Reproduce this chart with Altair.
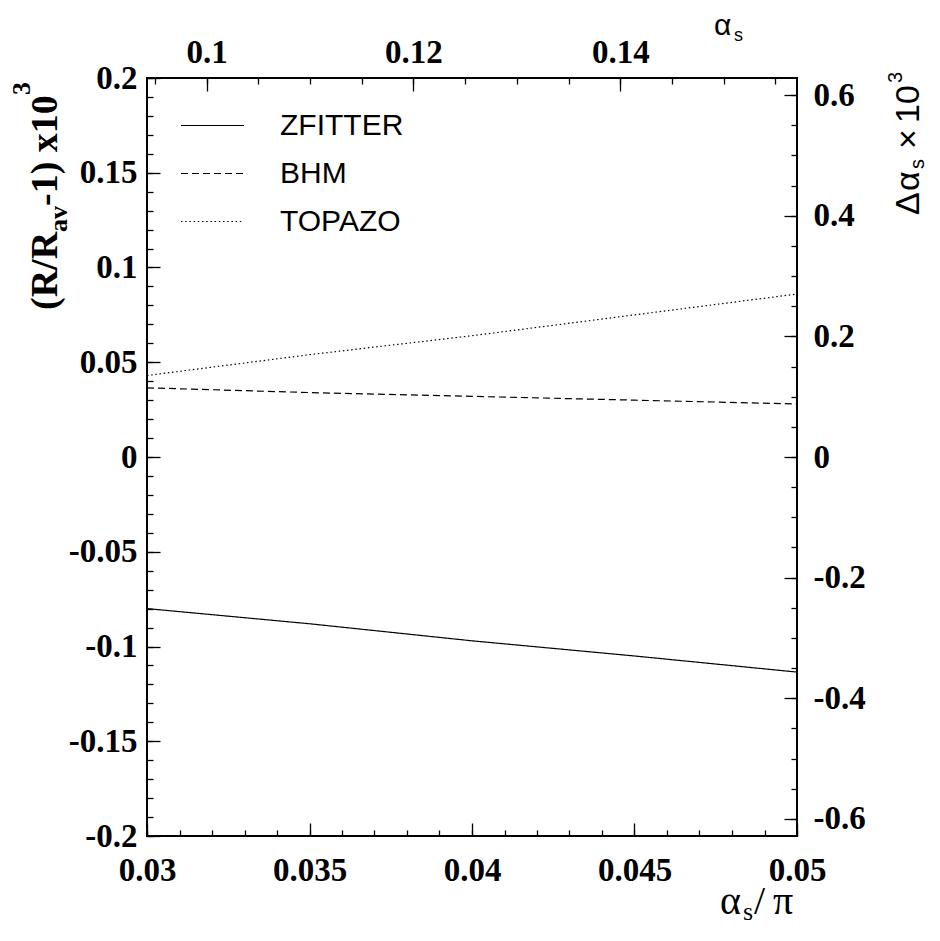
import math
import altair as alt
import pandas as pd

# ---------------- data ----------------
x_vals = [0.03, 0.035, 0.04, 0.045, 0.05]          # alpha_s / pi
zfitter = [-0.080, -0.088, -0.097, -0.105, -0.1135]  # (R/R_av - 1) x 1e3
bhm = [0.0365, 0.034, 0.032, 0.030, 0.028]
topazo = [0.043, 0.054, 0.064, 0.075, 0.086]
series_names = ["ZFITTER", "BHM", "TOPAZO"]

bottom_ticks = [0.03, 0.035, 0.04, 0.045, 0.05]
left_ticks = [-0.2, -0.15, -0.1, -0.05, 0.0, 0.05, 0.1, 0.15, 0.2]
top_ticks_alpha = [0.1, 0.12, 0.14]
right_ticks_delta = [-0.6, -0.4, -0.2, 0.0, 0.2, 0.4, 0.6]

PI = math.pi
bottom_minor = [round(0.03 + 0.001 * i, 4) for i in range(21)]
left_minor = [round(-0.2 + 0.01 * i, 3) for i in range(41)]
top_minor_alpha = [round(0.095 + 0.005 * i, 3) for i in range(13)]
right_minor_delta = [round(-0.6 + 0.05 * i, 2) for i in range(25)]

rows = []
for name, vals in zip(series_names, [zfitter, bhm, topazo]):
    for xv, yv in zip(x_vals, vals):
        rows.append({"x": xv, "y": yv, "series": name})
df = pd.DataFrame(rows)

xs = alt.Scale(domain=[0.03, 0.05], nice=False, zero=False)
ys = alt.Scale(domain=[-0.2, 0.2], nice=False, zero=False)


def axis(orient, values, size, labels=False, expr=None, pad=0):
    kw = dict(orient=orient, values=values, tickSize=size, offset=-size,
              domain=False, grid=False, title=None, ticks=True,
              tickColor="black", tickWidth=1.3, labels=labels)
    if labels:
        kw.update(labelFont="Liberation Serif", labelFontWeight="bold",
                  labelFontSize=33, labelColor="black", labelFlush=False,
                  labelOverlap=False, labelExpr=expr, labelPadding=pad)
    return alt.Axis(**kw)


lines = alt.Chart(df).mark_line(color="black", strokeWidth=1.2, clip=True).encode(
    x=alt.X("x:Q", scale=xs,
            axis=axis("bottom", bottom_ticks, 13, True, "toString(datum.value)", 18)),
    y=alt.Y("y:Q", scale=ys,
            axis=axis("left", left_ticks, 13, True, "toString(datum.value)", 10)),
    strokeDash=alt.StrokeDash(
        "series:N",
        scale=alt.Scale(domain=series_names, range=[[1, 0], [7, 4], [1.5, 2.7]]),
        legend=alt.Legend(orient="none", legendX=33, legendY=15, title=None,
                          symbolType="stroke", symbolSize=3969,
                          symbolStrokeWidth=1.2, symbolStrokeColor="black",
                          labelFont="Liberation Sans", labelFontSize=30,
                          labelColor="black", labelOffset=35, rowPadding=-7,
                          padding=0, labelLimit=0),
    ),
)

minor_bl = alt.Chart(df).mark_point(opacity=0).encode(
    x=alt.X("x:Q", scale=xs, axis=axis("bottom", bottom_minor, 6)),
    y=alt.Y("y:Q", scale=ys, axis=axis("left", left_minor, 6)),
)

major_tr = alt.Chart(df).mark_point(opacity=0).encode(
    x=alt.X("x:Q", scale=xs,
            axis=axis("top", [a / PI for a in top_ticks_alpha], 13, True,
                      "toString(round(datum.value*PI*100)/100)", 9)),
    y=alt.Y("y:Q", scale=ys,
            axis=axis("right", [d / PI for d in right_ticks_delta], 13, True,
                      "toString(round(datum.value*PI*10)/10)", 16)),
)

minor_tr = alt.Chart(df).mark_point(opacity=0).encode(
    x=alt.X("x:Q", scale=xs, axis=axis("top", [a / PI for a in top_minor_alpha], 6)),
    y=alt.Y("y:Q", scale=ys, axis=axis("right", [d / PI for d in right_minor_delta], 6)),
)


def txt(text, x, y, size, font, weight="normal", angle=0, dx=0, dy=0):
    kw = dict(font=font, fontSize=size, fontWeight=weight, align="left",
              baseline="alphabetic", color="black", dx=dx, dy=dy)
    if angle:
        kw["angle"] = angle
    return alt.Chart(pd.DataFrame({"t": [text]})).mark_text(**kw).encode(
        x=alt.value(x), y=alt.value(y), text="t:N")


SERIF = "Liberation Serif"
SANS = "Liberation Sans"

# left title: (R/R_av-1) x10^3
lt = [
    txt("(R/R", -90, 232, 38, SERIF, "bold", 270, 0, 0),
    txt("av", -90, 232, 26, SERIF, "bold", 270, 78, 10),
    txt("-1) x10", -90, 232, 38, SERIF, "bold", 270, 104, 0),
    txt("3", -90, 232, 26, SERIF, "bold", 270, 215, -27),
]
# right title: Δα_s ×10^3
rt = [
    txt("Δ", 772, 137, 34, SANS, "normal", 270, 0, 0),
    txt("α", 772, 137, 34, SANS, "normal", 270, 24, 0),
    txt("s", 772, 137, 20, SANS, "normal", 270, 46, 5),
    txt("×", 772, 137, 34, SANS, "normal", 270, 66, 0),
    txt("10", 772, 137, 34, SANS, "normal", 270, 92, 0),
    txt("3", 772, 137, 20, SANS, "normal", 270, 132, -17),
]
# bottom title: α_s/π
bt = [
    txt("α", 573, 836, 40, SERIF),
    txt("s", 596, 842, 26, SERIF),
    txt("/", 607, 836, 40, SERIF),
    txt("π", 626, 836, 40, SERIF),
]
# top title: α_s
tt = [
    txt("α", 567, -43, 30, SANS),
    txt("s", 587, -37, 18, SANS),
]

chart = alt.layer(lines, minor_bl, major_tr, minor_tr, *lt, *rt, *bt, *tt).resolve_axis(
    x="independent", y="independent"
).properties(
    width=650, height=758,
    autosize=alt.AutoSizeParams(type="none"),
    padding={"left": 139, "top": 70, "right": 135, "bottom": 92},
    background="white",
).configure_view(stroke="black", strokeWidth=2)

chart.save("out.html", embed_options={"renderer": "svg", "actions": False})
